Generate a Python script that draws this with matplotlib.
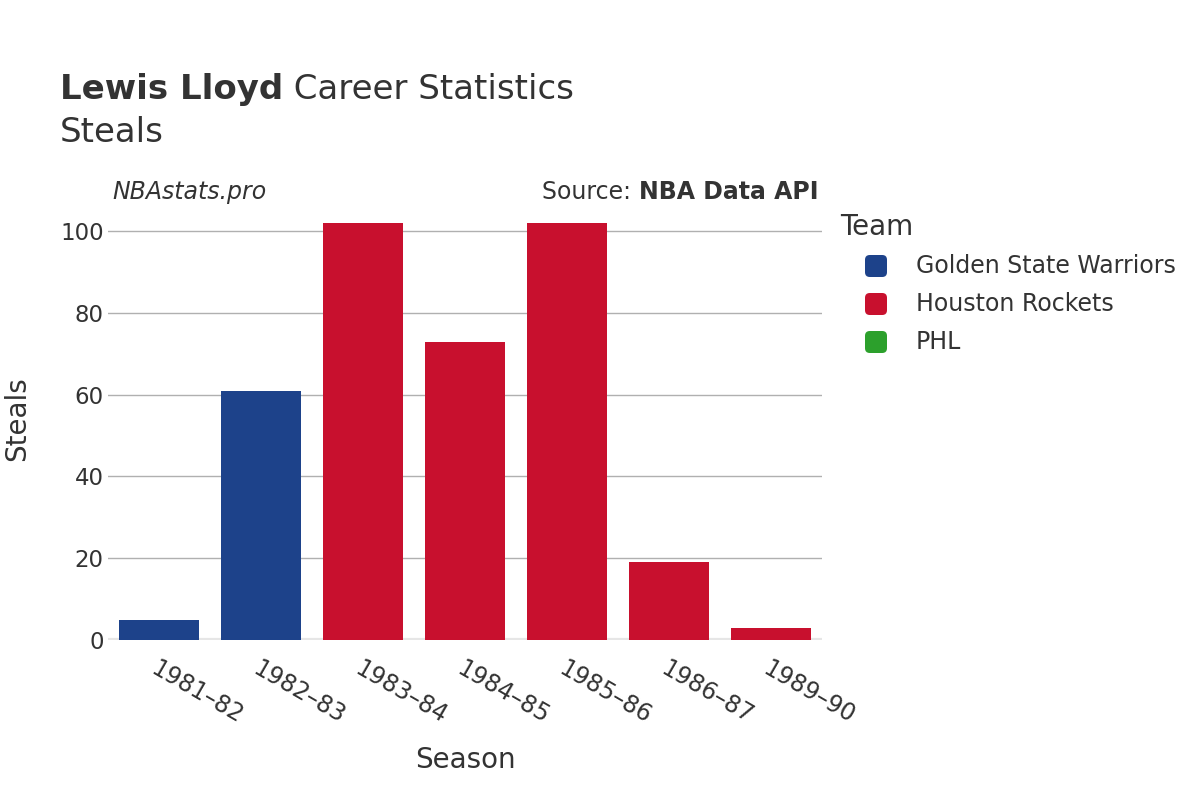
import matplotlib.pyplot as plt
from matplotlib.patches import FancyBboxPatch

# donnees
saisons = ["1981–82", "1982–83", "1983–84", "1984–85", "1985–86", "1986–87", "1989–90"]
interceptions = [5, 61, 102, 73, 102, 19, 3]
equipes = ["Golden State Warriors", "Golden State Warriors", "Houston Rockets",
           "Houston Rockets", "Houston Rockets", "Houston Rockets", "Houston Rockets"]
noms_legende = ["Golden State Warriors", "Houston Rockets", "PHL"]
couleurs = {"Golden State Warriors": "#1d428a", "Houston Rockets": "#c8102e", "PHL": "#2ca02c"}

texte = "#333333"
plt.rcParams['font.family'] = ['DejaVu Sans']

fig = plt.figure(figsize=(12, 8), dpi=100)
ax = fig.add_axes([0.09, 0.2, 0.595, 0.53])

x = range(len(saisons))
ax.bar(x, interceptions, width=0.78, color=[couleurs[e] for e in equipes], zorder=3)

ax.set_xlim(-0.5, len(saisons) - 0.5)
ax.set_ylim(0, 103.7)
ax.set_yticks([0, 20, 40, 60, 80, 100])
ax.grid(axis='y', color='#b0b0b0', linewidth=1, zorder=0)
ax.axhline(0, color='#e6e6e6', linewidth=3, zorder=2)
for s in ax.spines.values():
    s.set_visible(False)
ax.tick_params(length=0, labelsize=16.5, labelcolor=texte)
ax.tick_params(axis='y', pad=3)
ax.set_xticks(list(x))
ax.set_xticklabels(saisons, rotation=-30, ha='left', va='top', rotation_mode='anchor')
ax.tick_params(axis='x', pad=12, labelsize=17)

fig.text(0.3875, 0.05, "Season", ha='center', va='center', fontsize=20, color=texte)
fig.text(0.014, 0.477, "Steals", rotation=90, ha='center', va='center', fontsize=20, color=texte)

# titres
fig.canvas.draw()
rend = fig.canvas.get_renderer()
t1 = fig.text(0.05, 0.888, "Lewis Lloyd", fontsize=24.5, fontweight='bold', color=texte, va='center')
larg = t1.get_window_extent(rend).width / fig.bbox.width
fig.text(0.05 + larg, 0.888, " Career Statistics", fontsize=24.5, color=texte, va='center')
fig.text(0.05, 0.835, "Steals", fontsize=24.5, color=texte, va='center')
fig.text(0.094, 0.76, "NBAstats.pro", fontsize=17, style='italic', color=texte, va='center')
t2 = fig.text(0.682, 0.76, "NBA Data API", fontsize=17, fontweight='bold', color=texte, va='center', ha='right')
larg2 = t2.get_window_extent(rend).width / fig.bbox.width
fig.text(0.682 - larg2, 0.76, "Source: ", fontsize=17, color=texte, va='center', ha='right')

# legende dessinee a la main
fig.text(0.7, 0.716, "Team", fontsize=20, color=texte, va='center')
for i, nom in enumerate(noms_legende):
    yc = 1 - (266 + 38 * i) / 800
    carre = FancyBboxPatch((865 / 1200, yc - 11 / 800), 22 / 1200, 22 / 800,
                           boxstyle="round,pad=0,rounding_size=0.004",
                           transform=fig.transFigure, facecolor=couleurs[nom],
                           edgecolor='none', mutation_aspect=1.5)
    fig.patches.append(carre)
    fig.text(916 / 1200, yc, nom, fontsize=17, color=texte, va='center')

fig.savefig("out.png", dpi=100)
